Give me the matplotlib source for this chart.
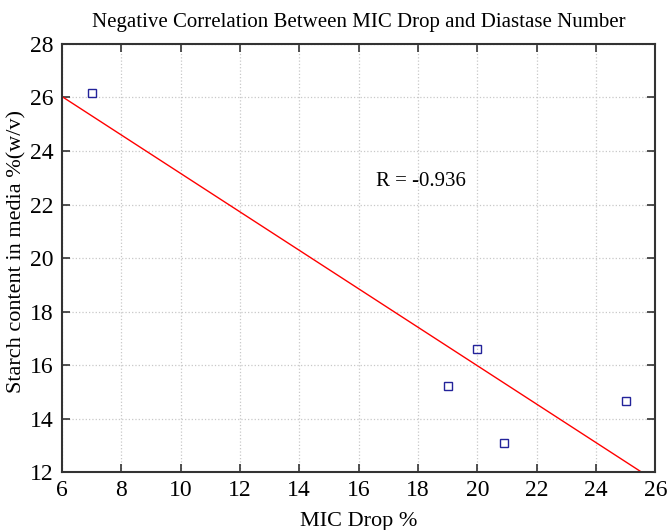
import matplotlib
matplotlib.use("Agg")
import matplotlib.pyplot as plt
import numpy as np

plt.rcParams["font.family"] = ["Liberation Serif", "DejaVu Serif"]

# Data
mic_drop = [7.0, 19.0, 20.0, 20.9, 25.0]
starch = [26.15, 15.2, 16.6, 13.1, 14.65]
r_text = "R = -0.936"

# Linear fit
slope, intercept = np.polyfit(mic_drop, starch, 1)
fit_x = np.array([6, 26])
fit_y = slope * fit_x + intercept

fig = plt.figure(figsize=(6.7, 5.3), dpi=100)
ax = fig.add_axes([0.0925, 0.1094, 0.8855, 0.8076])

ax.plot(fit_x, fit_y, color="red", linewidth=1.0)
ax.plot(mic_drop, starch, linestyle="none", marker="s", markersize=6,
        markerfacecolor="none", markeredgecolor="#23239a", markeredgewidth=1.0)

ax.text(16.6, 22.85, r_text, fontsize=15, va="center", ha="left")

ax.set_xlim(6, 26)
ax.set_ylim(12, 28)
ax.set_xticks(np.arange(6, 27, 2))
ax.set_yticks(np.arange(12, 29, 2))
ax.grid(True, linestyle=":", color="#c8c8c8", linewidth=0.9)
ax.tick_params(direction="in", top=True, right=True, length=6, width=1.2,
               labelsize=17, color="#333333", pad=6)
for s in ax.spines.values():
    s.set_linewidth(1.5)
    s.set_color("#333333")

ax.set_title("Negative Correlation Between MIC Drop and Diastase Number",
             fontsize=15, pad=12)
ax.set_xlabel("MIC Drop %", fontsize=16, labelpad=8)
ax.set_ylabel("Starch content in media %(w/v)", fontsize=16)
ax.yaxis.set_label_coords(-0.06, 0.515)

fig.savefig("out.png", dpi=100)
